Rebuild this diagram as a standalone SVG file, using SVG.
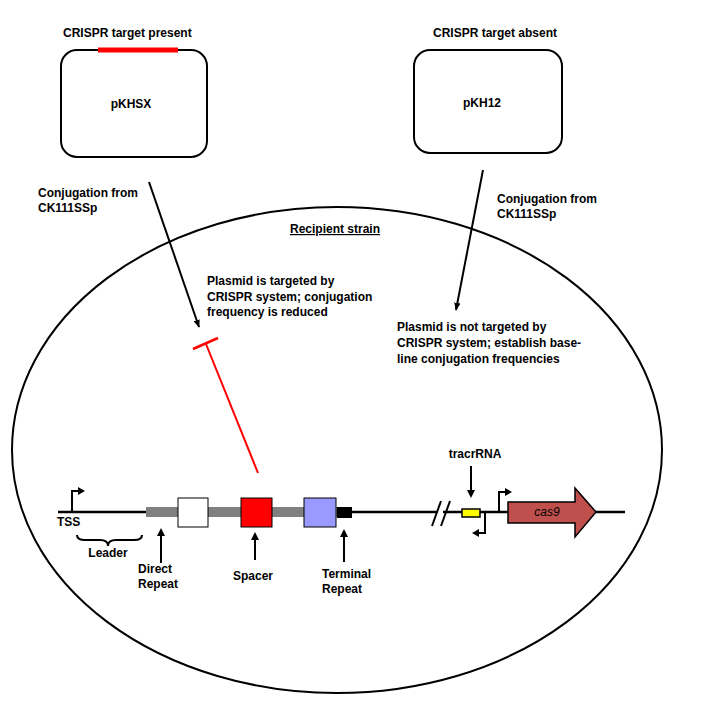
<svg xmlns="http://www.w3.org/2000/svg" width="702" height="710" viewBox="0 0 702 710">
<style>
text{font-family:"Liberation Sans",Arial,sans-serif;font-weight:bold;font-size:12px;fill:#000}
text.it{font-style:italic;font-weight:normal}
.ln{stroke:#000;stroke-width:2;fill:none}
.dna{stroke:#000;stroke-width:2.5;fill:none}
.box{fill:#fff;stroke:#000;stroke-width:2}
.hd{fill:#000}
</style>
<defs>
<marker id="ah" viewBox="0 0 10 10" refX="9" refY="5" markerWidth="4" markerHeight="4" orient="auto" markerUnits="strokeWidth"><path d="M0,1 L10,5 L0,9 z" fill="#000"/></marker>
</defs>
<g id="cell">
<ellipse cx="337" cy="450" rx="325" ry="243" class="ln"/>
<text x="335" y="233" text-anchor="middle" text-decoration="underline">Recipient strain</text>
</g>
<g id="pKHSX">
<text x="63" y="37">CRISPR target present</text>
<rect x="61" y="50" width="146" height="107" rx="16" class="box"/>
<line x1="98" y1="50" x2="178" y2="50" stroke="#f00" stroke-width="5"/>
<text x="131" y="108" text-anchor="middle">pKHSX</text>
</g>
<g id="pKH12">
<text x="433" y="37">CRISPR target absent</text>
<rect x="414" y="50" width="148" height="103" rx="16" class="box"/>
<text x="482" y="107" text-anchor="middle">pKH12</text>
</g>
<g id="labels">
<text x="38" y="197">Conjugation from</text>
<text x="38" y="212">CK111SSp</text>
<text x="497" y="203">Conjugation from</text>
<text x="497" y="218">CK111SSp</text>
<text x="207" y="285">Plasmid is targeted by</text>
<text x="207" y="301">CRISPR system; conjugation</text>
<text x="207" y="316">frequency is reduced</text>
<text x="397" y="331">Plasmid is not targeted by</text>
<text x="397" y="347">CRISPR system; establish base-</text>
<text x="397" y="363">line conjugation frequencies</text>
</g>
<g id="connectors">
<line x1="149" y1="182" x2="199" y2="327" class="ln" marker-end="url(#ah)"/>
<line x1="483" y1="170" x2="456" y2="310" class="ln" marker-end="url(#ah)"/>
<line x1="206" y1="344" x2="258" y2="473" stroke="#f00" stroke-width="2"/>
<line x1="193" y1="349" x2="218" y2="338" stroke="#f00" stroke-width="2.5"/>
</g>
<g id="locus">
<line x1="58" y1="512" x2="437" y2="512" class="dna"/>
<line x1="443" y1="512" x2="625" y2="512" class="dna"/>
<line x1="432" y1="526" x2="441" y2="501" class="ln"/>
<line x1="441" y1="526" x2="450" y2="501" class="ln"/>
<polyline points="72,512 72,491 79,491" class="ln"/>
<path d="M78,487 L85,491 L78,495 Z" class="hd"/>
<text x="57" y="526">TSS</text>
<path d="M77,535 Q77,540 85,540 L100,540 Q108,540 108,546 Q108,540 116,540 L134,540 Q142,540 142,535" class="ln"/>
<text x="108" y="557" text-anchor="middle">Leader</text>
<rect x="146" y="507" width="192" height="10" fill="#808080"/>
<rect x="337" y="507" width="15" height="11" fill="#000"/>
<rect x="178" y="498" width="30" height="29" fill="#fff" stroke="#000" stroke-width="1"/>
<rect x="241" y="498" width="31" height="29" fill="#f00" stroke="#000" stroke-width="1"/>
<rect x="304" y="498" width="32" height="29" fill="#99f" stroke="#000" stroke-width="1"/>
<line x1="161" y1="563" x2="161" y2="534" class="ln"/>
<path d="M157,536 L161,528 L165,536 Z" class="hd"/>
<line x1="255" y1="560" x2="255" y2="538" class="ln"/>
<path d="M251,540 L255,532 L259,540 Z" class="hd"/>
<line x1="344" y1="562" x2="344" y2="535" class="ln"/>
<path d="M340,537 L344,529 L348,537 Z" class="hd"/>
<text x="138" y="573">Direct</text>
<text x="138" y="588">Repeat</text>
<text x="253" y="580" text-anchor="middle">Spacer</text>
<text x="322" y="578">Terminal</text>
<text x="322" y="593">Repeat</text>
<text x="475" y="458" text-anchor="middle">tracrRNA</text>
<line x1="471" y1="466" x2="471" y2="492" class="ln"/>
<path d="M467,490 L471,498 L475,490 Z" class="hd"/>
<rect x="462" y="509" width="18" height="8" fill="#ff0" stroke="#000" stroke-width="1.5"/>
<polyline points="485,512 485,533 478,533" class="ln"/>
<path d="M479,529 L472,533 L479,537 Z" class="hd"/>
<polyline points="499,512 499,492 506,492" class="ln"/>
<path d="M505,488 L512,492 L505,496 Z" class="hd"/>
<path d="M508,502 L575,502 L575,488 L596,512 L575,537 L575,523 L508,523 Z" fill="#c0504d" stroke="#000" stroke-width="1.5"/>
<text x="547" y="516" text-anchor="middle" class="it">cas9</text>
</g>
</svg>
